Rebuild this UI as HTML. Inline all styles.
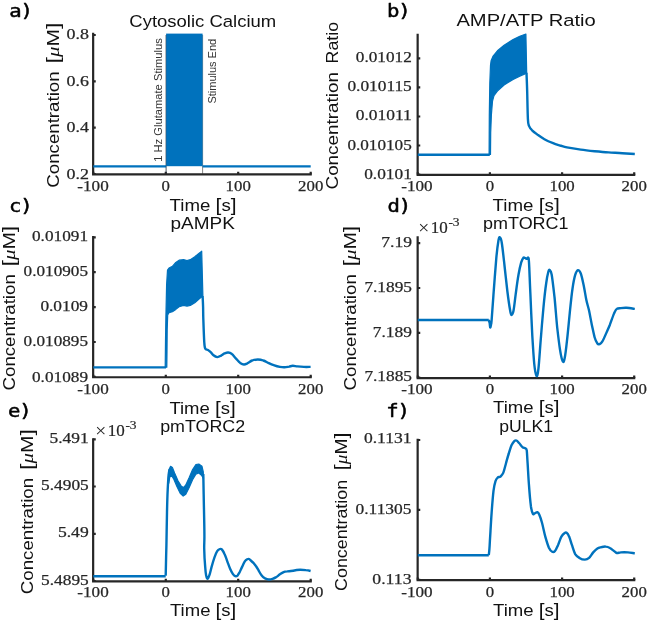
<!DOCTYPE html>
<html lang="en">
<head>
<meta charset="utf-8">
<title>Figure</title>
<style>
html,body{margin:0;padding:0;background:#fff;}
body{width:650px;height:625px;overflow:hidden;}
svg text{white-space:pre;}
</style>
</head>
<body>
<svg width="650" height="625" viewBox="0 0 650 625" style="display:block">
<rect width="650" height="625" fill="#fff"/>
<path d="M93.15,32.8 V174.35 H311.8" fill="none" stroke="#262626" stroke-width="2.2" stroke-linejoin="miter"/>
<path d="M93.3,174.35 v-2.6 M165.8,174.35 v-2.6 M238.2,174.35 v-2.6 M310.7,174.35 v-2.6 M93.15,35.0 h2.6 M93.15,81.3 h2.6 M93.15,127.7 h2.6 M93.15,174.0 h2.6 " fill="none" stroke="#262626" stroke-width="2.20"/>
<path d="M417.65,33.8 V174.85 H635.3" fill="none" stroke="#262626" stroke-width="2.2" stroke-linejoin="miter"/>
<path d="M417.8,174.85 v-2.6 M489.9,174.85 v-2.6 M562.1,174.85 v-2.6 M634.2,174.85 v-2.6 M417.65,58.4 h2.6 M417.65,87.4 h2.6 M417.65,116.5 h2.6 M417.65,145.5 h2.6 M417.65,174.5 h2.6 " fill="none" stroke="#262626" stroke-width="2.20"/>
<path d="M93.15,235.9 V377.25 H311.8" fill="none" stroke="#262626" stroke-width="2.2" stroke-linejoin="miter"/>
<path d="M93.3,377.25 v-2.6 M165.8,377.25 v-2.6 M238.2,377.25 v-2.6 M310.7,377.25 v-2.6 M93.15,237.3 h2.6 M93.15,272.2 h2.6 M93.15,307.1 h2.6 M93.15,342.0 h2.6 M93.15,376.9 h2.6 " fill="none" stroke="#262626" stroke-width="2.20"/>
<path d="M417.65,236.2 V378.05 H635.3" fill="none" stroke="#262626" stroke-width="2.2" stroke-linejoin="miter"/>
<path d="M417.8,378.05 v-2.6 M489.9,378.05 v-2.6 M562.1,378.05 v-2.6 M634.2,378.05 v-2.6 M417.65,243.1 h2.6 M417.65,288.0 h2.6 M417.65,332.8 h2.6 M417.65,377.7 h2.6 " fill="none" stroke="#262626" stroke-width="2.20"/>
<path d="M93.15,438.2 V581.35 H311.8" fill="none" stroke="#262626" stroke-width="2.2" stroke-linejoin="miter"/>
<path d="M93.3,581.35 v-2.6 M165.8,581.35 v-2.6 M238.2,581.35 v-2.6 M310.7,581.35 v-2.6 M93.15,439.3 h2.6 M93.15,486.5 h2.6 M93.15,533.8 h2.6 M93.15,581.0 h2.6 " fill="none" stroke="#262626" stroke-width="2.20"/>
<path d="M417.65,438.8 V580.15 H635.3" fill="none" stroke="#262626" stroke-width="2.2" stroke-linejoin="miter"/>
<path d="M417.8,580.15 v-2.6 M489.9,580.15 v-2.6 M562.1,580.15 v-2.6 M634.2,580.15 v-2.6 M417.65,440.0 h2.6 M417.65,509.9 h2.6 M417.65,579.8 h2.6 " fill="none" stroke="#262626" stroke-width="2.20"/>
<path d="M166.1,35.0 V174.0 M202.6,35.0 V174.0" stroke="#333" stroke-width="0.6" fill="none"/>
<rect x="166.1" y="33.6" width="36.5" height="132.6" fill="#0072BD"/>
<path d="M93.3,166.3 H166.1 M202.6,166.3 H310.7" fill="none" stroke="#0072BD" stroke-width="2.3" stroke-linejoin="round" stroke-linecap="butt"/>
<path d="M166.1,35.0 V173.0" stroke="#1a3a5a" stroke-width="0.6" fill="none" opacity="0.6"/>
<text x="77.3" y="191.3" font-family='"Liberation Serif", "DejaVu Serif", serif' font-size="15.0" fill="#262626" stroke="#262626" stroke-width="0.25" textLength="31.4" lengthAdjust="spacingAndGlyphs">-100</text>
<text x="161.6" y="191.3" font-family='"Liberation Serif", "DejaVu Serif", serif' font-size="15.0" fill="#262626" stroke="#262626" stroke-width="0.25" textLength="8.4" lengthAdjust="spacingAndGlyphs">0</text>
<text x="225.6" y="191.3" font-family='"Liberation Serif", "DejaVu Serif", serif' font-size="15.0" fill="#262626" stroke="#262626" stroke-width="0.25" textLength="25.2" lengthAdjust="spacingAndGlyphs">100</text>
<text x="298.1" y="191.3" font-family='"Liberation Serif", "DejaVu Serif", serif' font-size="15.0" fill="#262626" stroke="#262626" stroke-width="0.25" textLength="25.2" lengthAdjust="spacingAndGlyphs">200</text>
<text x="66.6" y="39.4" font-family='"Liberation Serif", "DejaVu Serif", serif' font-size="15.0" fill="#262626" stroke="#262626" stroke-width="0.25" textLength="22.4" lengthAdjust="spacingAndGlyphs">0.8</text>
<text x="66.6" y="85.8" font-family='"Liberation Serif", "DejaVu Serif", serif' font-size="15.0" fill="#262626" stroke="#262626" stroke-width="0.25" textLength="22.4" lengthAdjust="spacingAndGlyphs">0.6</text>
<text x="66.6" y="132.2" font-family='"Liberation Serif", "DejaVu Serif", serif' font-size="15.0" fill="#262626" stroke="#262626" stroke-width="0.25" textLength="22.4" lengthAdjust="spacingAndGlyphs">0.4</text>
<text x="66.6" y="178.6" font-family='"Liberation Serif", "DejaVu Serif", serif' font-size="15.0" fill="#262626" stroke="#262626" stroke-width="0.25" textLength="22.4" lengthAdjust="spacingAndGlyphs">0.2</text>
<text transform="translate(161.7,161.8) rotate(-90)" x="0" y="0" font-family='"Liberation Sans", "DejaVu Sans", sans-serif' font-size="10.8" fill="#333" textLength="123.6" lengthAdjust="spacingAndGlyphs">1 Hz Glutamate Stimulus</text>
<text transform="translate(216.1,103.6) rotate(-90)" x="0" y="0" font-family='"Liberation Sans", "DejaVu Sans", sans-serif' font-size="10.8" fill="#333" textLength="64.8" lengthAdjust="spacingAndGlyphs">Stimulus End</text>
<text x="129.3" y="26.8" font-family='"Liberation Sans", "DejaVu Sans", sans-serif' font-size="16.9" font-weight="normal" fill="#111" textLength="146.9" lengthAdjust="spacingAndGlyphs">Cytosolic Calcium</text>
<text x="169.6" y="210.6" font-family='"Liberation Sans", "DejaVu Sans", sans-serif' font-size="15.9" font-weight="normal" fill="#111" textLength="67.0" lengthAdjust="spacingAndGlyphs">Time <tspan font-size="17.8">[</tspan>s<tspan font-size="17.8">]</tspan></text>
<text transform="translate(58.8,187.7) rotate(-90)" x="0" y="0" font-family='"Liberation Sans", "DejaVu Sans", sans-serif' font-size="15.9" fill="#111" textLength="116.3" lengthAdjust="spacingAndGlyphs">Concentration</text>
<text transform="translate(58.8,63.5) rotate(-90)" x="0" y="0" font-family='"Liberation Sans", "DejaVu Sans", sans-serif' font-size="15.9" fill="#111" textLength="40.9" lengthAdjust="spacingAndGlyphs"><tspan font-size="17.8">[</tspan><tspan font-family='"Liberation Serif", "DejaVu Serif", serif' font-style="italic">μ</tspan>M<tspan font-size="17.8">]</tspan></text>
<text transform="translate(9.3,17.0) scale(1.12,1)" x="0" y="0" font-family='"DejaVu Sans Mono", "Liberation Mono", monospace' font-size="18.4" letter-spacing="-1" fill="#000" stroke="#000" stroke-width="0.5" stroke-linejoin="round">a)</text>
<path d="M489.1,154.5 L489.3,114.6 L489.8,83.2 L490.5,65.3 L491.1,60.8 L492.9,56.4 L497.4,50.8 L504.1,45.2 L513.1,39.6 L519.8,36.2 L525.9,34.0 L526.7,73.2 L519.8,76.1 L513.1,79.4 L504.1,85.0 L497.4,91.1 L494.0,95.6 L492.5,101.2 L491.4,114.6 L490.7,132.5 L490.5,154.5 Z" fill="#0072BD" stroke="#0072BD" stroke-width="1.2" stroke-linejoin="round"/>
<path d="M417.8,154.7 H489.8" fill="none" stroke="#0072BD" stroke-width="2.4" stroke-linejoin="round" stroke-linecap="butt"/>
<path d="M526.5,72.7 C526.6,76.0 527.0,84.5 527.2,92.2 C527.4,99.9 527.6,113.5 527.9,119.1 C528.2,124.7 528.3,123.9 529.0,125.8 C529.7,127.7 530.7,128.8 532.1,130.3 C533.6,131.8 535.7,133.3 537.7,134.8 C539.8,136.3 541.9,137.8 544.4,139.2 C547.0,140.7 550.5,142.2 553.1,143.2 C555.7,144.3 557.7,144.8 560.0,145.5 C562.3,146.1 563.5,146.7 566.9,147.4 C570.4,148.1 576.2,149.0 580.8,149.6 C585.4,150.3 590.0,150.8 594.6,151.3 C599.2,151.7 603.9,152.1 608.5,152.4 C613.1,152.7 617.9,152.9 622.3,153.2 C626.7,153.5 632.7,153.9 634.8,154.0" fill="none" stroke="#0072BD" stroke-width="2.4" stroke-linejoin="round" stroke-linecap="butt"/>
<text x="401.2" y="191.3" font-family='"Liberation Serif", "DejaVu Serif", serif' font-size="15.0" fill="#262626" stroke="#262626" stroke-width="0.25" textLength="31.4" lengthAdjust="spacingAndGlyphs">-100</text>
<text x="485.7" y="191.3" font-family='"Liberation Serif", "DejaVu Serif", serif' font-size="15.0" fill="#262626" stroke="#262626" stroke-width="0.25" textLength="8.4" lengthAdjust="spacingAndGlyphs">0</text>
<text x="549.5" y="191.3" font-family='"Liberation Serif", "DejaVu Serif", serif' font-size="15.0" fill="#262626" stroke="#262626" stroke-width="0.25" textLength="25.2" lengthAdjust="spacingAndGlyphs">100</text>
<text x="621.6" y="191.3" font-family='"Liberation Serif", "DejaVu Serif", serif' font-size="15.0" fill="#262626" stroke="#262626" stroke-width="0.25" textLength="25.2" lengthAdjust="spacingAndGlyphs">200</text>
<text x="355.8" y="62.0" font-family='"Liberation Serif", "DejaVu Serif", serif' font-size="15.0" fill="#262626" stroke="#262626" stroke-width="0.25" textLength="56.0" lengthAdjust="spacingAndGlyphs">0.01012</text>
<text x="347.4" y="91.2" font-family='"Liberation Serif", "DejaVu Serif", serif' font-size="15.0" fill="#262626" stroke="#262626" stroke-width="0.25" textLength="64.4" lengthAdjust="spacingAndGlyphs">0.010115</text>
<text x="355.8" y="120.4" font-family='"Liberation Serif", "DejaVu Serif", serif' font-size="15.0" fill="#262626" stroke="#262626" stroke-width="0.25" textLength="56.0" lengthAdjust="spacingAndGlyphs">0.01011</text>
<text x="347.4" y="149.6" font-family='"Liberation Serif", "DejaVu Serif", serif' font-size="15.0" fill="#262626" stroke="#262626" stroke-width="0.25" textLength="64.4" lengthAdjust="spacingAndGlyphs">0.010105</text>
<text x="364.2" y="178.8" font-family='"Liberation Serif", "DejaVu Serif", serif' font-size="15.0" fill="#262626" stroke="#262626" stroke-width="0.25" textLength="47.6" lengthAdjust="spacingAndGlyphs">0.0101</text>
<text x="456.4" y="26.4" font-family='"Liberation Sans", "DejaVu Sans", sans-serif' font-size="16.9" font-weight="normal" fill="#111" textLength="139.4" lengthAdjust="spacingAndGlyphs">AMP/ATP Ratio</text>
<text x="492.6" y="210.6" font-family='"Liberation Sans", "DejaVu Sans", sans-serif' font-size="15.9" font-weight="normal" fill="#111" textLength="67.2" lengthAdjust="spacingAndGlyphs">Time <tspan font-size="17.8">[</tspan>s<tspan font-size="17.8">]</tspan></text>
<text transform="translate(338.0,189.5) rotate(-90)" x="0" y="0" font-family='"Liberation Sans", "DejaVu Sans", sans-serif' font-size="15.9" fill="#111" textLength="117.5" lengthAdjust="spacingAndGlyphs">Concentration</text>
<text transform="translate(338.0,63.4) rotate(-90)" x="0" y="0" font-family='"Liberation Sans", "DejaVu Sans", sans-serif' font-size="15.9" fill="#111" textLength="41.4" lengthAdjust="spacingAndGlyphs">Ratio</text>
<text transform="translate(386.9,17.0) scale(1.12,1)" x="0" y="0" font-family='"DejaVu Sans Mono", "Liberation Mono", monospace' font-size="18.4" letter-spacing="-1" fill="#000" stroke="#000" stroke-width="0.5" stroke-linejoin="round">b)</text>
<path d="M165.2,367.2 L165.5,340.8 L165.9,316.2 L166.6,284.8 L167.5,270.2 L169.0,268.0 L172.4,266.4 L175.8,262.4 L179.1,260.2 L183.6,259.7 L187.0,260.6 L190.3,259.7 L194.8,256.8 L198.2,253.9 L201.7,251.2 L202.9,296.0 L199.3,298.7 L194.8,302.7 L190.3,305.4 L187.0,306.1 L183.6,305.4 L179.1,306.8 L175.8,309.4 L172.4,311.7 L169.0,312.8 L167.7,315.0 L167.2,329.6 L167.0,352.0 L166.8,367.2 Z" fill="#0072BD" stroke="#0072BD" stroke-width="1.2" stroke-linejoin="round"/>
<path d="M93.3,367.4 H166.0" fill="none" stroke="#0072BD" stroke-width="2.4" stroke-linejoin="round" stroke-linecap="butt"/>
<path d="M202.6,296.0 C202.7,297.9 203.0,303.5 203.1,307.2 C203.2,310.9 203.1,312.8 203.3,318.4 C203.5,324.1 203.9,336.1 204.2,341.1 C204.5,346.1 204.5,347.0 205.2,348.5 C205.8,349.9 207.0,349.3 207.9,349.9 C208.8,350.6 209.8,351.3 210.7,352.2 C211.6,353.0 212.4,354.5 213.5,355.3 C214.5,356.1 215.9,357.0 217.2,357.1 C218.4,357.2 219.6,356.5 220.8,355.8 C222.1,355.2 223.3,354.0 224.5,353.4 C225.8,352.9 227.0,352.4 228.2,352.5 C229.5,352.6 230.7,353.1 231.9,354.0 C233.2,354.9 234.2,356.6 235.6,358.1 C237.0,359.5 238.8,361.8 240.2,362.9 C241.6,363.9 242.7,364.5 243.9,364.5 C245.2,364.6 246.2,363.9 247.6,363.2 C249.0,362.6 250.5,361.1 252.2,360.5 C253.9,359.8 255.9,359.5 257.8,359.5 C259.6,359.5 261.5,359.8 263.3,360.5 C265.1,361.1 267.0,362.4 268.8,363.2 C270.7,364.1 272.5,364.8 274.4,365.4 C276.2,366.1 278.2,366.6 279.9,366.9 C281.6,367.2 283.0,367.4 284.5,367.3 C286.1,367.2 287.8,366.8 289.1,366.6 C290.5,366.3 291.5,365.8 292.8,365.8 C294.2,365.8 295.6,366.2 297.5,366.4 C299.3,366.6 301.7,366.8 303.9,366.9 C306.1,367.0 309.5,366.9 310.6,366.9" fill="none" stroke="#0072BD" stroke-width="2.4" stroke-linejoin="round" stroke-linecap="butt"/>
<text x="77.3" y="394.4" font-family='"Liberation Serif", "DejaVu Serif", serif' font-size="15.0" fill="#262626" stroke="#262626" stroke-width="0.25" textLength="31.4" lengthAdjust="spacingAndGlyphs">-100</text>
<text x="161.6" y="394.4" font-family='"Liberation Serif", "DejaVu Serif", serif' font-size="15.0" fill="#262626" stroke="#262626" stroke-width="0.25" textLength="8.4" lengthAdjust="spacingAndGlyphs">0</text>
<text x="225.6" y="394.4" font-family='"Liberation Serif", "DejaVu Serif", serif' font-size="15.0" fill="#262626" stroke="#262626" stroke-width="0.25" textLength="25.2" lengthAdjust="spacingAndGlyphs">100</text>
<text x="298.1" y="394.4" font-family='"Liberation Serif", "DejaVu Serif", serif' font-size="15.0" fill="#262626" stroke="#262626" stroke-width="0.25" textLength="25.2" lengthAdjust="spacingAndGlyphs">200</text>
<text x="32.0" y="240.6" font-family='"Liberation Serif", "DejaVu Serif", serif' font-size="15.0" fill="#262626" stroke="#262626" stroke-width="0.25" textLength="56.0" lengthAdjust="spacingAndGlyphs">0.01091</text>
<text x="23.6" y="275.9" font-family='"Liberation Serif", "DejaVu Serif", serif' font-size="15.0" fill="#262626" stroke="#262626" stroke-width="0.25" textLength="64.4" lengthAdjust="spacingAndGlyphs">0.010905</text>
<text x="40.4" y="311.1" font-family='"Liberation Serif", "DejaVu Serif", serif' font-size="15.0" fill="#262626" stroke="#262626" stroke-width="0.25" textLength="47.6" lengthAdjust="spacingAndGlyphs">0.0109</text>
<text x="23.6" y="346.4" font-family='"Liberation Serif", "DejaVu Serif", serif' font-size="15.0" fill="#262626" stroke="#262626" stroke-width="0.25" textLength="64.4" lengthAdjust="spacingAndGlyphs">0.010895</text>
<text x="32.0" y="381.6" font-family='"Liberation Serif", "DejaVu Serif", serif' font-size="15.0" fill="#262626" stroke="#262626" stroke-width="0.25" textLength="56.0" lengthAdjust="spacingAndGlyphs">0.01089</text>
<text x="170.6" y="228.9" font-family='"Liberation Sans", "DejaVu Sans", sans-serif' font-size="16.9" font-weight="normal" fill="#111" textLength="64.2" lengthAdjust="spacingAndGlyphs">pAMPK</text>
<text x="169.4" y="413.5" font-family='"Liberation Sans", "DejaVu Sans", sans-serif' font-size="15.9" font-weight="normal" fill="#111" textLength="66.4" lengthAdjust="spacingAndGlyphs">Time <tspan font-size="17.8">[</tspan>s<tspan font-size="17.8">]</tspan></text>
<text transform="translate(15.0,390.5) rotate(-90)" x="0" y="0" font-family='"Liberation Sans", "DejaVu Sans", sans-serif' font-size="15.9" fill="#111" textLength="116.3" lengthAdjust="spacingAndGlyphs">Concentration</text>
<text transform="translate(15.0,266.6) rotate(-90)" x="0" y="0" font-family='"Liberation Sans", "DejaVu Sans", sans-serif' font-size="15.9" fill="#111" textLength="40.9" lengthAdjust="spacingAndGlyphs"><tspan font-size="17.8">[</tspan><tspan font-family='"Liberation Serif", "DejaVu Serif", serif' font-style="italic">μ</tspan>M<tspan font-size="17.8">]</tspan></text>
<text transform="translate(9.0,212.4) scale(1.12,1)" x="0" y="0" font-family='"DejaVu Sans Mono", "Liberation Mono", monospace' font-size="18.4" letter-spacing="-1" fill="#000" stroke="#000" stroke-width="0.5" stroke-linejoin="round">c)</text>
<path d="M417.8,320 H488.8" fill="none" stroke="#0072BD" stroke-width="2.4" stroke-linejoin="round" stroke-linecap="butt"/>
<path d="M488.8,320.0 C489.0,320.5 489.4,322.1 489.7,323.3 C489.9,324.6 490.0,327.2 490.2,327.5 C490.4,327.7 490.8,325.8 491.0,324.7 C491.3,323.5 491.2,325.6 491.6,320.5 C492.0,315.5 492.8,304.6 493.5,294.2 C494.3,283.8 495.5,267.2 496.3,258.2 C497.1,249.2 497.9,243.7 498.5,240.2 C499.1,236.8 499.4,237.0 499.9,237.5 C500.5,237.9 501.1,238.2 501.8,243.0 C502.6,247.8 503.7,258.5 504.6,266.5 C505.5,274.6 506.5,284.1 507.4,291.5 C508.3,298.8 509.5,306.9 510.2,310.8 C510.8,314.8 511.0,315.0 511.5,315.0 C512.1,315.0 512.8,314.3 513.5,310.8 C514.2,307.4 514.9,300.2 515.7,294.2 C516.5,288.2 517.5,280.2 518.5,274.8 C519.4,269.5 520.4,265.2 521.2,262.4 C522.1,259.5 522.8,258.4 523.4,257.7 C524.1,257.0 524.8,258.0 525.4,258.2 C525.9,258.4 526.3,258.9 526.8,258.8 C527.2,258.7 527.8,257.1 528.2,257.7 C528.5,258.3 528.6,256.3 529.0,262.4 C529.4,268.5 529.8,282.0 530.4,294.2 C530.9,306.5 531.7,324.2 532.3,335.8 C533.0,347.3 533.6,356.8 534.2,363.5 C534.9,370.2 535.8,375.0 536.5,375.9 C537.2,376.9 537.7,374.8 538.4,369.0 C539.1,363.2 539.8,351.5 540.6,341.3 C541.4,331.2 542.5,317.8 543.4,308.1 C544.3,298.4 545.3,289.2 546.2,283.2 C547.0,277.1 547.8,273.7 548.4,271.5 C549.0,269.4 549.2,269.6 549.8,270.1 C550.3,270.7 550.9,270.4 551.7,274.8 C552.5,279.3 553.5,288.2 554.5,297.0 C555.4,305.8 556.3,318.7 557.2,327.5 C558.2,336.2 559.1,343.9 560.0,349.6 C560.9,355.3 562.0,360.1 562.8,361.5 C563.6,362.9 564.0,361.3 564.7,357.9 C565.4,354.6 566.1,348.7 566.9,341.3 C567.8,333.9 568.8,322.4 569.7,313.6 C570.6,304.8 571.5,295.2 572.5,288.7 C573.4,282.2 574.3,277.9 575.2,274.8 C576.2,271.8 577.1,270.4 578.0,270.1 C578.9,269.9 579.8,271.1 580.8,273.5 C581.7,275.9 582.6,280.2 583.5,284.5 C584.5,288.9 585.4,295.4 586.3,299.8 C587.2,304.2 588.2,306.7 589.1,310.8 C590.0,315.0 590.9,320.3 591.8,324.7 C592.8,329.1 593.7,334.0 594.6,337.2 C595.5,340.3 596.6,342.4 597.4,343.5 C598.2,344.7 598.8,344.4 599.6,344.1 C600.4,343.7 601.4,342.9 602.4,341.3 C603.4,339.7 604.5,337.2 605.7,334.4 C606.9,331.6 608.5,328.2 609.9,324.7 C611.2,321.2 612.9,316.2 614.0,313.6 C615.2,311.0 615.6,309.8 616.8,308.9 C617.9,308.0 619.3,308.3 620.9,308.1 C622.5,307.9 624.2,307.7 626.5,307.8 C628.8,307.9 633.4,308.7 634.8,308.9" fill="none" stroke="#0072BD" stroke-width="2.4" stroke-linejoin="round" stroke-linecap="butt"/>
<text x="401.2" y="394.0" font-family='"Liberation Serif", "DejaVu Serif", serif' font-size="15.0" fill="#262626" stroke="#262626" stroke-width="0.25" textLength="31.4" lengthAdjust="spacingAndGlyphs">-100</text>
<text x="485.7" y="394.0" font-family='"Liberation Serif", "DejaVu Serif", serif' font-size="15.0" fill="#262626" stroke="#262626" stroke-width="0.25" textLength="8.4" lengthAdjust="spacingAndGlyphs">0</text>
<text x="549.5" y="394.0" font-family='"Liberation Serif", "DejaVu Serif", serif' font-size="15.0" fill="#262626" stroke="#262626" stroke-width="0.25" textLength="25.2" lengthAdjust="spacingAndGlyphs">100</text>
<text x="621.6" y="394.0" font-family='"Liberation Serif", "DejaVu Serif", serif' font-size="15.0" fill="#262626" stroke="#262626" stroke-width="0.25" textLength="25.2" lengthAdjust="spacingAndGlyphs">200</text>
<text x="381.2" y="247.4" font-family='"Liberation Serif", "DejaVu Serif", serif' font-size="15.0" fill="#262626" stroke="#262626" stroke-width="0.25" textLength="30.8" lengthAdjust="spacingAndGlyphs">7.19</text>
<text x="364.4" y="292.1" font-family='"Liberation Serif", "DejaVu Serif", serif' font-size="15.0" fill="#262626" stroke="#262626" stroke-width="0.25" textLength="47.6" lengthAdjust="spacingAndGlyphs">7.1895</text>
<text x="372.8" y="336.7" font-family='"Liberation Serif", "DejaVu Serif", serif' font-size="15.0" fill="#262626" stroke="#262626" stroke-width="0.25" textLength="39.2" lengthAdjust="spacingAndGlyphs">7.189</text>
<text x="364.4" y="381.4" font-family='"Liberation Serif", "DejaVu Serif", serif' font-size="15.0" fill="#262626" stroke="#262626" stroke-width="0.25" textLength="47.6" lengthAdjust="spacingAndGlyphs">7.1885</text>
<text x="418.2" y="233.6" font-family='"Liberation Serif", "DejaVu Serif", serif' font-size="19.5" fill="#262626">×</text>
<text x="430.8" y="233.0" font-family='"Liberation Serif", "DejaVu Serif", serif' font-size="16.2" fill="#262626" stroke="#262626" stroke-width="0.2" textLength="17" lengthAdjust="spacingAndGlyphs">10</text>
<text x="448.4" y="226.0" font-family='"Liberation Serif", "DejaVu Serif", serif' font-size="11.8" fill="#262626" stroke="#262626" stroke-width="0.2" textLength="11.2" lengthAdjust="spacingAndGlyphs">-3</text>
<text x="483.0" y="228.9" font-family='"Liberation Sans", "DejaVu Sans", sans-serif' font-size="16.9" font-weight="normal" fill="#111" textLength="85.6" lengthAdjust="spacingAndGlyphs">pmTORC1</text>
<text x="493.0" y="413.0" font-family='"Liberation Sans", "DejaVu Sans", sans-serif' font-size="15.9" font-weight="normal" fill="#111" textLength="66.6" lengthAdjust="spacingAndGlyphs">Time <tspan font-size="17.8">[</tspan>s<tspan font-size="17.8">]</tspan></text>
<text transform="translate(356.1,390.5) rotate(-90)" x="0" y="0" font-family='"Liberation Sans", "DejaVu Sans", sans-serif' font-size="15.9" fill="#111" textLength="116.3" lengthAdjust="spacingAndGlyphs">Concentration</text>
<text transform="translate(356.1,266.6) rotate(-90)" x="0" y="0" font-family='"Liberation Sans", "DejaVu Sans", sans-serif' font-size="15.9" fill="#111" textLength="40.9" lengthAdjust="spacingAndGlyphs"><tspan font-size="17.8">[</tspan><tspan font-family='"Liberation Serif", "DejaVu Serif", serif' font-style="italic">μ</tspan>M<tspan font-size="17.8">]</tspan></text>
<text transform="translate(387.6,212.4) scale(1.12,1)" x="0" y="0" font-family='"DejaVu Sans Mono", "Liberation Mono", monospace' font-size="18.4" letter-spacing="-1" fill="#000" stroke="#000" stroke-width="0.5" stroke-linejoin="round">d)</text>
<path d="M168.4,478.6 L169.0,469.6 L170.6,466.3 L172.4,467.4 L174.6,473.0 L178.0,480.8 L181.4,486.4 L183.6,487.6 L185.8,484.9 L189.2,477.5 L192.6,469.6 L195.9,464.7 L198.8,464.0 L202.0,466.3 L203.3,471.9 L203.5,478.6 L201.5,475.2 L198.8,473.0 L195.9,474.1 L192.6,479.7 L189.2,487.6 L185.8,494.3 L183.2,496.1 L180.2,493.2 L176.9,486.4 L173.5,478.6 L171.3,475.2 L169.7,477.5 L168.8,483.1 Z" fill="#0072BD" stroke="#0072BD" stroke-width="1.2" stroke-linejoin="round"/>
<path d="M165.7,575.6 C165.8,570.6 166.1,556.4 166.4,545.8 C166.6,535.2 166.8,521.5 167.0,512.2 C167.2,502.9 167.4,496.0 167.7,489.8 C168.0,483.6 168.3,478.6 168.6,475.2 C168.9,471.9 169.3,470.6 169.5,469.6" fill="none" stroke="#0072BD" stroke-width="2.4" stroke-linejoin="round" stroke-linecap="butt"/>
<path d="M93.3,576.3 H165.7" fill="none" stroke="#0072BD" stroke-width="2.4" stroke-linejoin="round" stroke-linecap="butt"/>
<path d="M203.3,474.1 C203.4,478.6 203.6,490.9 203.8,501.0 C204.0,511.1 204.4,526.7 204.4,534.6 C204.5,542.5 204.1,543.1 204.2,548.5 C204.3,553.8 204.8,562.5 205.2,566.9 C205.5,571.4 205.7,573.2 206.1,575.2 C206.5,577.2 207.0,578.9 207.6,578.9 C208.1,578.9 208.7,577.2 209.4,575.2 C210.1,573.2 210.8,569.8 211.6,566.9 C212.4,564.0 213.5,560.3 214.4,557.7 C215.3,555.1 216.2,552.7 217.2,551.2 C218.1,549.8 219.2,549.3 219.9,549.0 C220.7,548.7 221.0,548.6 221.8,549.4 C222.5,550.2 223.6,552.0 224.5,554.0 C225.5,556.0 226.4,558.9 227.3,561.4 C228.2,563.8 229.2,566.7 230.1,568.8 C231.0,570.9 232.0,572.7 232.8,573.9 C233.7,575.2 234.5,575.9 235.2,576.2 C236.0,576.4 236.7,576.3 237.5,575.6 C238.2,574.9 238.9,573.5 239.7,572.1 C240.4,570.6 241.2,568.7 242.1,566.9 C242.9,565.1 244.0,562.7 244.8,561.4 C245.7,560.1 246.5,559.6 247.2,559.2 C248.0,558.8 248.4,558.7 249.1,559.0 C249.8,559.3 250.5,560.3 251.3,561.0 C252.1,561.7 252.9,562.4 253.7,563.2 C254.5,564.1 255.1,564.8 255.9,566.0 C256.8,567.2 257.8,569.1 258.7,570.6 C259.6,572.2 260.4,573.9 261.5,575.2 C262.5,576.5 263.9,577.7 265.1,578.4 C266.4,579.1 267.6,579.4 268.8,579.5 C270.1,579.6 271.3,579.3 272.5,578.9 C273.8,578.5 275.0,577.8 276.2,577.1 C277.5,576.3 278.7,575.1 279.9,574.3 C281.1,573.5 282.4,572.6 283.6,572.1 C284.8,571.6 286.1,571.5 287.3,571.4 C288.5,571.2 289.6,571.2 291.0,571.0 C292.4,570.8 294.1,570.5 295.6,570.2 C297.1,570.0 298.5,569.7 300.2,569.7 C301.9,569.7 304.0,569.8 305.8,570.1 C307.5,570.3 309.8,570.8 310.6,571.0" fill="none" stroke="#0072BD" stroke-width="2.4" stroke-linejoin="round" stroke-linecap="butt"/>
<text x="77.3" y="597.3" font-family='"Liberation Serif", "DejaVu Serif", serif' font-size="15.0" fill="#262626" stroke="#262626" stroke-width="0.25" textLength="31.4" lengthAdjust="spacingAndGlyphs">-100</text>
<text x="161.6" y="597.3" font-family='"Liberation Serif", "DejaVu Serif", serif' font-size="15.0" fill="#262626" stroke="#262626" stroke-width="0.25" textLength="8.4" lengthAdjust="spacingAndGlyphs">0</text>
<text x="225.6" y="597.3" font-family='"Liberation Serif", "DejaVu Serif", serif' font-size="15.0" fill="#262626" stroke="#262626" stroke-width="0.25" textLength="25.2" lengthAdjust="spacingAndGlyphs">100</text>
<text x="298.1" y="597.3" font-family='"Liberation Serif", "DejaVu Serif", serif' font-size="15.0" fill="#262626" stroke="#262626" stroke-width="0.25" textLength="25.2" lengthAdjust="spacingAndGlyphs">200</text>
<text x="49.5" y="443.3" font-family='"Liberation Serif", "DejaVu Serif", serif' font-size="15.0" fill="#262626" stroke="#262626" stroke-width="0.25" textLength="39.2" lengthAdjust="spacingAndGlyphs">5.491</text>
<text x="41.1" y="490.4" font-family='"Liberation Serif", "DejaVu Serif", serif' font-size="15.0" fill="#262626" stroke="#262626" stroke-width="0.25" textLength="47.6" lengthAdjust="spacingAndGlyphs">5.4905</text>
<text x="57.9" y="537.4" font-family='"Liberation Serif", "DejaVu Serif", serif' font-size="15.0" fill="#262626" stroke="#262626" stroke-width="0.25" textLength="30.8" lengthAdjust="spacingAndGlyphs">5.49</text>
<text x="41.1" y="584.5" font-family='"Liberation Serif", "DejaVu Serif", serif' font-size="15.0" fill="#262626" stroke="#262626" stroke-width="0.25" textLength="47.6" lengthAdjust="spacingAndGlyphs">5.4895</text>
<text x="95.2" y="436.6" font-family='"Liberation Serif", "DejaVu Serif", serif' font-size="19.5" fill="#262626">×</text>
<text x="107.8" y="436.0" font-family='"Liberation Serif", "DejaVu Serif", serif' font-size="16.2" fill="#262626" stroke="#262626" stroke-width="0.2" textLength="17" lengthAdjust="spacingAndGlyphs">10</text>
<text x="125.4" y="429.0" font-family='"Liberation Serif", "DejaVu Serif", serif' font-size="11.8" fill="#262626" stroke="#262626" stroke-width="0.2" textLength="11.2" lengthAdjust="spacingAndGlyphs">-3</text>
<text x="160.2" y="432.3" font-family='"Liberation Sans", "DejaVu Sans", sans-serif' font-size="16.9" font-weight="normal" fill="#111" textLength="85.0" lengthAdjust="spacingAndGlyphs">pmTORC2</text>
<text x="170.0" y="616.4" font-family='"Liberation Sans", "DejaVu Sans", sans-serif' font-size="15.9" font-weight="normal" fill="#111" textLength="66.4" lengthAdjust="spacingAndGlyphs">Time <tspan font-size="17.8">[</tspan>s<tspan font-size="17.8">]</tspan></text>
<text transform="translate(32.6,594.2) rotate(-90)" x="0" y="0" font-family='"Liberation Sans", "DejaVu Sans", sans-serif' font-size="15.9" fill="#111" textLength="116.3" lengthAdjust="spacingAndGlyphs">Concentration</text>
<text transform="translate(32.6,470.0) rotate(-90)" x="0" y="0" font-family='"Liberation Sans", "DejaVu Sans", sans-serif' font-size="15.9" fill="#111" textLength="40.9" lengthAdjust="spacingAndGlyphs"><tspan font-size="17.8">[</tspan><tspan font-family='"Liberation Serif", "DejaVu Serif", serif' font-style="italic">μ</tspan>M<tspan font-size="17.8">]</tspan></text>
<text transform="translate(8.0,417.3) scale(1.12,1)" x="0" y="0" font-family='"DejaVu Sans Mono", "Liberation Mono", monospace' font-size="18.4" letter-spacing="-1" fill="#000" stroke="#000" stroke-width="0.5" stroke-linejoin="round">e)</text>
<path d="M417.8,555.2 H488.8" fill="none" stroke="#0072BD" stroke-width="2.4" stroke-linejoin="round" stroke-linecap="butt"/>
<path d="M488.8,555.2 C488.9,554.2 489.2,551.5 489.4,549.1 C489.6,546.7 489.6,546.8 489.9,540.8 C490.3,534.8 491.0,521.4 491.6,513.1 C492.2,504.8 492.9,496.2 493.5,490.9 C494.2,485.6 494.8,483.4 495.5,481.2 C496.2,479.0 496.9,478.4 497.7,477.6 C498.5,476.8 499.5,477.3 500.5,476.5 C501.4,475.7 502.3,475.1 503.2,472.9 C504.2,470.7 505.1,466.5 506.0,463.2 C506.9,460.0 507.8,456.5 508.8,453.5 C509.7,450.5 510.6,447.3 511.5,445.2 C512.5,443.2 513.5,441.9 514.3,441.1 C515.1,440.3 515.7,440.2 516.5,440.5 C517.4,440.9 518.3,442.2 519.3,443.3 C520.3,444.4 521.6,446.3 522.6,447.2 C523.6,448.0 524.7,447.7 525.4,448.3 C526.1,448.9 526.4,448.3 526.8,450.8 C527.1,453.3 527.2,457.5 527.6,463.2 C528.0,469.0 528.4,478.2 529.0,485.4 C529.5,492.5 530.3,501.4 530.9,506.2 C531.6,510.9 532.2,512.8 532.9,513.9 C533.6,515.1 534.3,513.4 535.1,513.1 C535.8,512.8 536.6,512.0 537.3,512.2 C538.0,512.5 538.4,512.7 539.2,514.5 C540.0,516.2 541.0,519.1 542.0,522.8 C543.0,526.5 544.2,532.5 545.3,536.6 C546.5,540.8 547.8,545.2 548.9,547.7 C550.1,550.2 551.2,551.3 552.2,551.8 C553.3,552.4 554.0,552.2 555.0,551.0 C556.0,549.9 557.0,547.3 558.1,544.9 C559.1,542.5 560.3,538.6 561.4,536.6 C562.5,534.6 563.8,533.6 564.7,533.0 C565.6,532.4 566.2,532.4 566.9,533.0 C567.7,533.6 568.3,534.6 569.1,536.6 C570.0,538.6 570.9,542.0 571.9,544.9 C572.9,547.8 574.0,551.9 575.2,554.1 C576.5,556.2 577.8,557.0 579.4,557.9 C581.0,558.9 583.3,559.6 584.9,559.6 C586.5,559.6 587.7,559.1 589.1,557.9 C590.5,556.7 591.8,554.0 593.2,552.4 C594.6,550.8 596.0,549.4 597.4,548.5 C598.8,547.6 600.2,547.5 601.5,547.1 C602.9,546.8 604.3,546.4 605.7,546.6 C607.1,546.7 608.5,547.2 609.9,548.0 C611.2,548.7 612.9,550.2 614.0,551.0 C615.2,551.8 615.6,552.7 616.8,553.0 C617.9,553.2 619.1,552.5 620.9,552.4 C622.8,552.3 625.5,552.3 627.9,552.4 C630.2,552.5 633.6,553.1 634.8,553.2" fill="none" stroke="#0072BD" stroke-width="2.4" stroke-linejoin="round" stroke-linecap="butt"/>
<text x="401.2" y="597.3" font-family='"Liberation Serif", "DejaVu Serif", serif' font-size="15.0" fill="#262626" stroke="#262626" stroke-width="0.25" textLength="31.4" lengthAdjust="spacingAndGlyphs">-100</text>
<text x="485.7" y="597.3" font-family='"Liberation Serif", "DejaVu Serif", serif' font-size="15.0" fill="#262626" stroke="#262626" stroke-width="0.25" textLength="8.4" lengthAdjust="spacingAndGlyphs">0</text>
<text x="549.5" y="597.3" font-family='"Liberation Serif", "DejaVu Serif", serif' font-size="15.0" fill="#262626" stroke="#262626" stroke-width="0.25" textLength="25.2" lengthAdjust="spacingAndGlyphs">100</text>
<text x="621.6" y="597.3" font-family='"Liberation Serif", "DejaVu Serif", serif' font-size="15.0" fill="#262626" stroke="#262626" stroke-width="0.25" textLength="25.2" lengthAdjust="spacingAndGlyphs">200</text>
<text x="363.9" y="443.1" font-family='"Liberation Serif", "DejaVu Serif", serif' font-size="15.0" fill="#262626" stroke="#262626" stroke-width="0.25" textLength="47.6" lengthAdjust="spacingAndGlyphs">0.1131</text>
<text x="355.5" y="513.7" font-family='"Liberation Serif", "DejaVu Serif", serif' font-size="15.0" fill="#262626" stroke="#262626" stroke-width="0.25" textLength="56.0" lengthAdjust="spacingAndGlyphs">0.11305</text>
<text x="372.3" y="584.3" font-family='"Liberation Serif", "DejaVu Serif", serif' font-size="15.0" fill="#262626" stroke="#262626" stroke-width="0.25" textLength="39.2" lengthAdjust="spacingAndGlyphs">0.113</text>
<text x="499.2" y="432.3" font-family='"Liberation Sans", "DejaVu Sans", sans-serif' font-size="16.9" font-weight="normal" fill="#111" textLength="53.8" lengthAdjust="spacingAndGlyphs">pULK1</text>
<text x="493.0" y="616.4" font-family='"Liberation Sans", "DejaVu Sans", sans-serif' font-size="15.9" font-weight="normal" fill="#111" textLength="66.6" lengthAdjust="spacingAndGlyphs">Time <tspan font-size="17.8">[</tspan>s<tspan font-size="17.8">]</tspan></text>
<text transform="translate(346.9,590.9) rotate(-90)" x="0" y="0" font-family='"Liberation Sans", "DejaVu Sans", sans-serif' font-size="15.9" fill="#111" textLength="111.0" lengthAdjust="spacingAndGlyphs">Concentration</text>
<text transform="translate(346.9,470.2) rotate(-90)" x="0" y="0" font-family='"Liberation Sans", "DejaVu Sans", sans-serif' font-size="15.9" fill="#111" textLength="37.7" lengthAdjust="spacingAndGlyphs"><tspan font-size="17.8">[</tspan><tspan font-family='"Liberation Serif", "DejaVu Serif", serif' font-style="italic">μ</tspan>M<tspan font-size="17.8">]</tspan></text>
<text transform="translate(386.2,417.2) scale(1.12,1)" x="0" y="0" font-family='"DejaVu Sans Mono", "Liberation Mono", monospace' font-size="18.4" letter-spacing="-1" fill="#000" stroke="#000" stroke-width="0.5" stroke-linejoin="round">f)</text>
</svg>
</body>
</html>
